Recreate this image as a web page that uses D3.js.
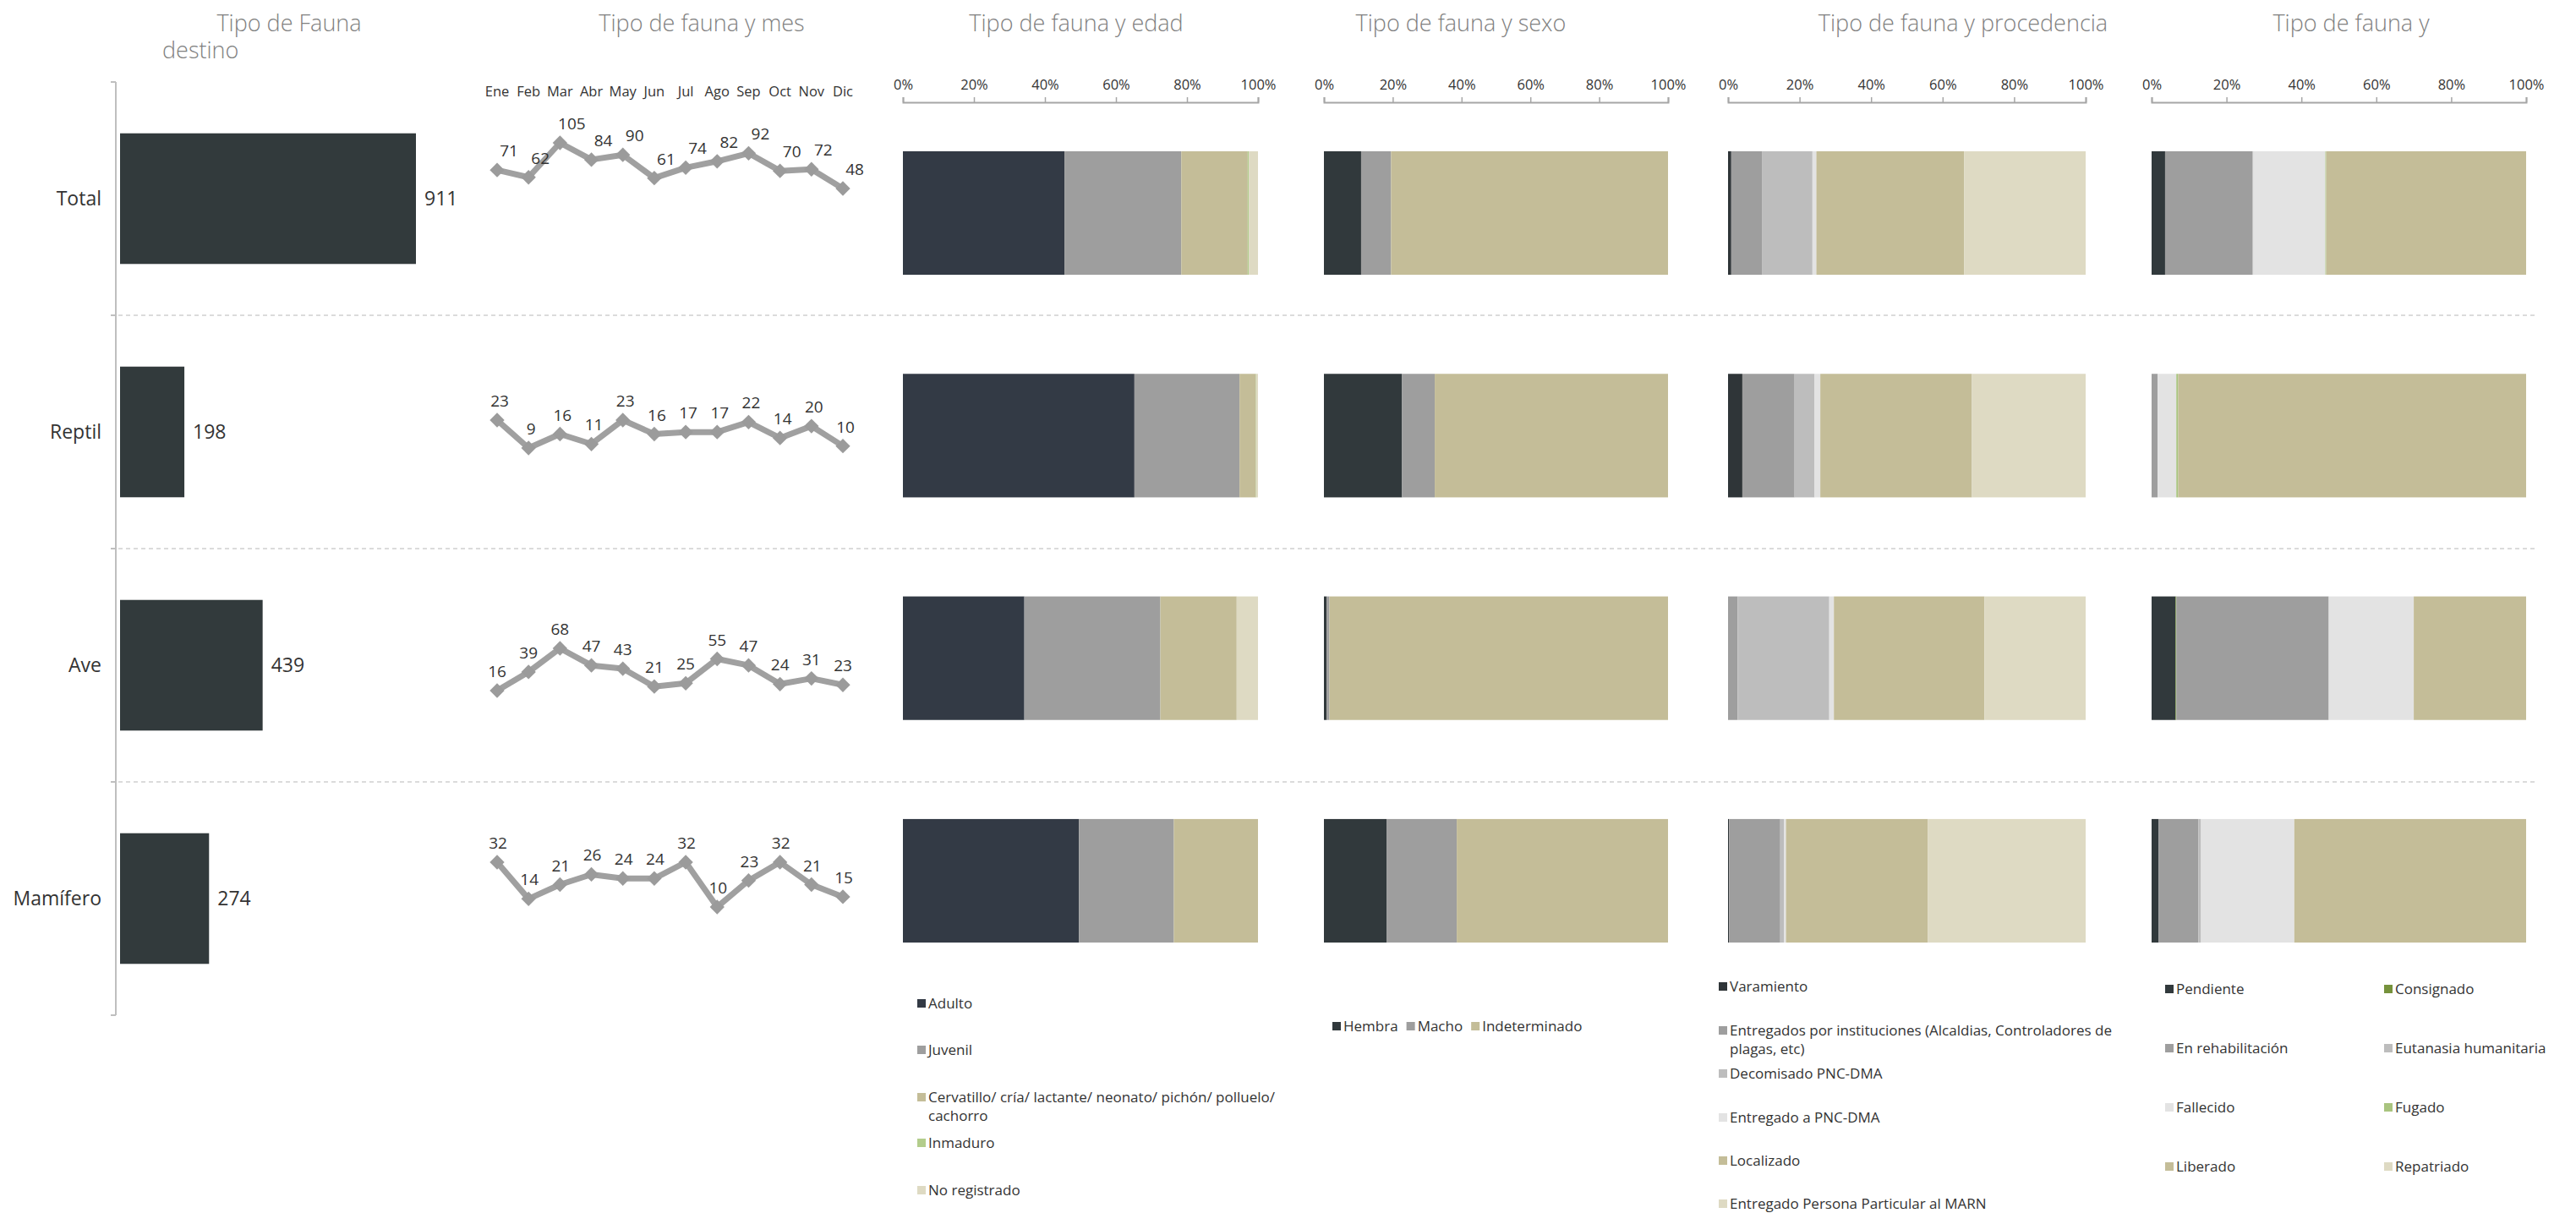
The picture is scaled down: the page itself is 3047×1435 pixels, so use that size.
<!DOCTYPE html>
<html><head><meta charset="utf-8">
<script src="https://cdn.jsdelivr.net/npm/d3@7"></script>
<style>body{margin:0;background:#fff}svg{display:block}text{font-family:"Open Sans",Lato,sans-serif}</style>
</head><body><svg id="c" width="3047" height="1435"></svg>
<script>
// ---------- data ----------
const categories = ["Total", "Reptil", "Ave", "Mamífero"];
const totals = [911, 198, 439, 274];
const months = ["Ene","Feb","Mar","Abr","May","Jun","Jul","Ago","Sep","Oct","Nov","Dic"];
const monthTotal    = [71, 62, 105, 84, 90, 61, 74, 82, 92, 70, 72, 48];
const monthReptil   = [23, 9, 16, 11, 23, 16, 17, 17, 22, 14, 20, 10];
const monthAve      = [16, 39, 68, 47, 43, 21, 25, 55, 47, 24, 31, 23];
const monthMamifero = [32, 14, 21, 26, 24, 24, 32, 10, 23, 32, 21, 15];
const percentTicks = [0, 20, 40, 60, 80, 100];

const edadKeys = ["Adulto", "Juvenil", "Cervatillo/ cría/ lactante/ neonato/ pichón/ polluelo/ cachorro", "Inmaduro", "No registrado"];
const edadTotal    = [45.5, 32.9, 18.7, 0.3, 2.6];
const edadReptil   = [65.2, 29.6, 4.6, 0.1, 0.5];
const edadAve      = [34.2, 38.3, 21.5, 0, 6.0];
const edadMamifero = [49.6, 26.7, 23.7, 0, 0];

const sexoKeys = ["Hembra", "Macho", "Indeterminado"];
const sexoTotal    = [10.8, 8.7, 80.5];
const sexoReptil   = [22.7, 9.5, 67.8];
const sexoAve      = [0.8, 0.8, 98.4];
const sexoMamifero = [18.2, 20.4, 61.4];

const procKeys = ["Varamiento", "Entregados por instituciones (Alcaldias, Controladores de plagas, etc)", "Decomisado PNC-DMA", "Entregado a PNC-DMA", "Localizado", "Entregado Persona Particular al MARN"];
const procTotal    = [0.9, 8.7, 14.0, 1.1, 41.3, 34.0];
const procReptil   = [4.0, 14.6, 5.6, 1.6, 42.4, 31.8];
const procAve      = [0, 2.7, 25.6, 1.3, 42.1, 28.3];
const procMamifero = [0.3, 14.3, 1.1, 0.5, 39.7, 44.1];

const destKeys = ["Pendiente", "Consignado", "En rehabilitación", "Eutanasia humanitaria", "Fallecido", "Fugado", "Liberado", "Repatriado"];
const destTotal    = [3.6, 0, 23.3, 0.3, 19.2, 0.2, 53.4, 0];
const destReptil   = [0, 0, 1.6, 0, 5.0, 0.5, 92.9, 0];
const destAve      = [6.4, 0.2, 40.7, 0, 22.7, 0, 30.0, 0];
const destMamifero = [1.9, 0, 10.6, 0.7, 24.9, 0, 61.9, 0];

// ---------- styles ----------
const edadColors = ["#333a45", "#9e9e9e", "#c4bd98", "#b3cd8c", "#dedac3"];
const sexoColors = ["#31393c", "#9e9e9e", "#c4bd98"];
const procColors = ["#2f3538", "#9e9e9e", "#bdbdbd", "#e3e3e3", "#c4bd98", "#dedac3"];
const destColors = ["#31393c", "#76923c", "#9e9e9e", "#bdbdbd", "#e3e3e3", "#a9c47f", "#c4bd98", "#dedac3"];

const svg = d3.select("#c");
svg.append("rect").attr("width", 3047).attr("height", 1435).attr("fill", "#fff");
const titleColor = "#7f7f7f", textColor = "#333";

// ---------- titles ----------
const titles = [
  {t: "Tipo de Fauna", x: 342}, {t: "Tipo de fauna y mes", x: 830},
  {t: "Tipo de fauna y edad", x: 1273}, {t: "Tipo de fauna y sexo", x: 1728},
  {t: "Tipo de fauna y procedencia", x: 2322}, {t: "Tipo de fauna y", x: 2781}
];
svg.selectAll("text.title").data(titles).join("text").attr("class", "title")
  .attr("x", d => d.x).attr("y", 37).attr("text-anchor", "middle")
  .attr("font-size", 27).attr("font-weight", 300).attr("fill", titleColor).text(d => d.t);
svg.append("text").attr("x", 192).attr("y", 69).attr("font-size", 27).attr("font-weight", 300)
  .attr("fill", titleColor).text("destino");

// ---------- bar chart ----------
const yBand = d3.scaleBand().domain(categories).range([97, 1201]).paddingInner(0.44).paddingOuter(0.22);
const xBar = d3.scaleLinear().domain([0, 911]).range([142, 492]);
const gBar = svg.append("g");
gBar.append("line").attr("x1", 137).attr("x2", 137).attr("y1", 97).attr("y2", 1201)
  .attr("stroke", "#bfbfbf").attr("stroke-width", 2);
const bounds = [97].concat(categories.map(c => yBand(c) - yBand.step() * yBand.paddingInner() / 2 + yBand.step()));
gBar.selectAll("line.tk").data(bounds).join("line").attr("class", "tk")
  .attr("x1", 131).attr("x2", 137).attr("y1", d => d).attr("y2", d => d)
  .attr("stroke", "#bfbfbf").attr("stroke-width", 2);
svg.selectAll("line.sep").data(bounds.slice(1, 4)).join("line").attr("class", "sep")
  .attr("x1", 140).attr("x2", 3002).attr("y1", d => d).attr("y2", d => d)
  .attr("stroke", "#cfcfcf").attr("stroke-width", 1.5).attr("stroke-dasharray", "5,4");
gBar.selectAll("rect").data(categories).join("rect")
  .attr("x", xBar(0)).attr("y", c => yBand(c)).attr("height", yBand.bandwidth())
  .attr("width", (c, i) => xBar(totals[i]) - xBar(0)).attr("fill", "#323a3c");
gBar.selectAll("text.val").data(categories).join("text").attr("class", "val")
  .attr("x", (c, i) => xBar(totals[i]) + 10).attr("y", c => yBand(c) + yBand.bandwidth() / 2)
  .attr("dy", "0.35em").attr("font-size", 23).attr("fill", textColor).text((c, i) => totals[i]);
gBar.selectAll("text.cat").data(categories).join("text").attr("class", "cat")
  .attr("x", 120).attr("y", c => yBand(c) + yBand.bandwidth() / 2)
  .attr("dy", "0.35em").attr("text-anchor", "end").attr("font-size", 23).attr("fill", textColor).text(c => c);

// ---------- line charts ----------
const xMonth = d3.scalePoint().domain(months).range([588, 997]);
svg.selectAll("text.month").data(months).join("text").attr("class", "month")
  .attr("x", m => xMonth(m)).attr("y", 114).attr("text-anchor", "middle")
  .attr("font-size", 16.5).attr("fill", textColor).text(m => m);
const lineRows = [
  {vals: monthTotal, range: [223, 169], dx: 14},
  {vals: monthReptil, range: [530, 497], dx: 3},
  {vals: monthAve, range: [817, 767], dx: 0},
  {vals: monthMamifero, range: [1073, 1020], dx: 1}
];
lineRows.forEach(r => {
  const y = d3.scaleLinear().domain(d3.extent(r.vals)).range(r.range);
  const g = svg.append("g");
  g.append("path").datum(r.vals)
    .attr("d", d3.line().x((v, i) => xMonth(months[i])).y(v => y(v)))
    .attr("fill", "none").attr("stroke", "#a0a0a0").attr("stroke-width", 7).attr("stroke-linejoin", "round");
  g.selectAll("path.m").data(r.vals).join("path").attr("class", "m")
    .attr("d", d3.symbol(d3.symbolSquare, 150)())
    .attr("transform", (v, i) => `translate(${xMonth(months[i])},${y(v)}) rotate(45)`)
    .attr("fill", "#9b9b9b");
  g.selectAll("text").data(r.vals).join("text")
    .attr("x", (v, i) => xMonth(months[i]) + r.dx).attr("y", v => y(v) - 16)
    .attr("text-anchor", "middle").attr("font-size", 19).attr("fill", textColor).text(v => v);
});

// ---------- stacked percentage panels ----------
const yStack = d3.scaleBand().domain(categories).range([121, 1173]).paddingInner(0.445).paddingOuter(0.22);
function stackPanel(keys, rows, colors, x0, x1) {
  const x = d3.scaleLinear().domain([0, 100]).range([x0, x1]);
  const g = svg.append("g");
  const ax = g.append("g").attr("transform", "translate(0,121)")
    .call(d3.axisTop(x).tickValues(percentTicks).tickSize(6).tickPadding(9).tickFormat(d => d + "%"));
  ax.select(".domain").attr("stroke", "#a6a6a6").attr("stroke-width", 2);
  ax.selectAll(".tick line").attr("stroke", "#a6a6a6").attr("stroke-width", 1.5);
  ax.selectAll(".tick text").attr("font-size", 16.5).attr("fill", textColor).attr("font-family", '"Open Sans",sans-serif');
  const table = categories.map((c, i) => {
    const o = {cat: c};
    keys.forEach((k, j) => o[k] = rows[i][j]);
    return o;
  });
  const series = d3.stack().keys(keys)(table);
  g.selectAll("g.s").data(series).join("g").attr("class", "s").attr("fill", (s, i) => colors[i])
    .selectAll("rect").data(s => s).join("rect")
    .attr("x", d => x(d[0])).attr("width", d => Math.max(0, x(d[1]) - x(d[0])))
    .attr("y", d => yStack(d.data.cat)).attr("height", yStack.bandwidth());
}
stackPanel(edadKeys, [edadTotal, edadReptil, edadAve, edadMamifero], edadColors, 1068, 1488);
stackPanel(sexoKeys, [sexoTotal, sexoReptil, sexoAve, sexoMamifero], sexoColors, 1566, 1973);
stackPanel(procKeys, [procTotal, procReptil, procAve, procMamifero], procColors, 2044, 2467);
stackPanel(destKeys, [destTotal, destReptil, destAve, destMamifero], destColors, 2545, 2988);

// ---------- legends ----------
const legFont = 17;
function legendItem(x, y, label, color, wrap) {
  const g = svg.append("g");
  g.append("rect").attr("x", x).attr("y", y - 5).attr("width", 10).attr("height", 10).attr("fill", color);
  const t = g.append("text").attr("x", x + 13).attr("y", y).attr("dy", "0.35em")
    .attr("font-size", legFont).attr("fill", textColor);
  if (!wrap) { t.text(label); return t; }
  const words = label.split(" ");
  let line = [], tspan = t.append("tspan").attr("x", x + 13);
  words.forEach(w => {
    line.push(w);
    tspan.text(line.join(" "));
    if (tspan.node().getComputedTextLength() > wrap && line.length > 1) {
      line.pop(); tspan.text(line.join(" "));
      line = [w];
      tspan = t.append("tspan").attr("x", x + 13).attr("dy", "1.3em").text(w);
    }
  });
  return t;
}
const edadLegY = [1187, 1242, 1298, 1352, 1408];
edadKeys.forEach((k, i) => legendItem(1085, edadLegY[i], k, edadColors[i], 455));

let sx = 1576;
sexoKeys.forEach((k, i) => {
  const t = legendItem(sx, 1214, k, sexoColors[i]);
  sx += 13 + t.node().getComputedTextLength() + 10;
});

const procLegY = [1167, 1219, 1270, 1322, 1373, 1424];
procKeys.forEach((k, i) => legendItem(2033, procLegY[i], k, procColors[i], 500));

const destLegY = [1170, 1240, 1310, 1380];
destKeys.forEach((k, i) => legendItem(i % 2 === 0 ? 2561 : 2820, destLegY[Math.floor(i / 2)], k, destColors[i]));
</script></body></html>
